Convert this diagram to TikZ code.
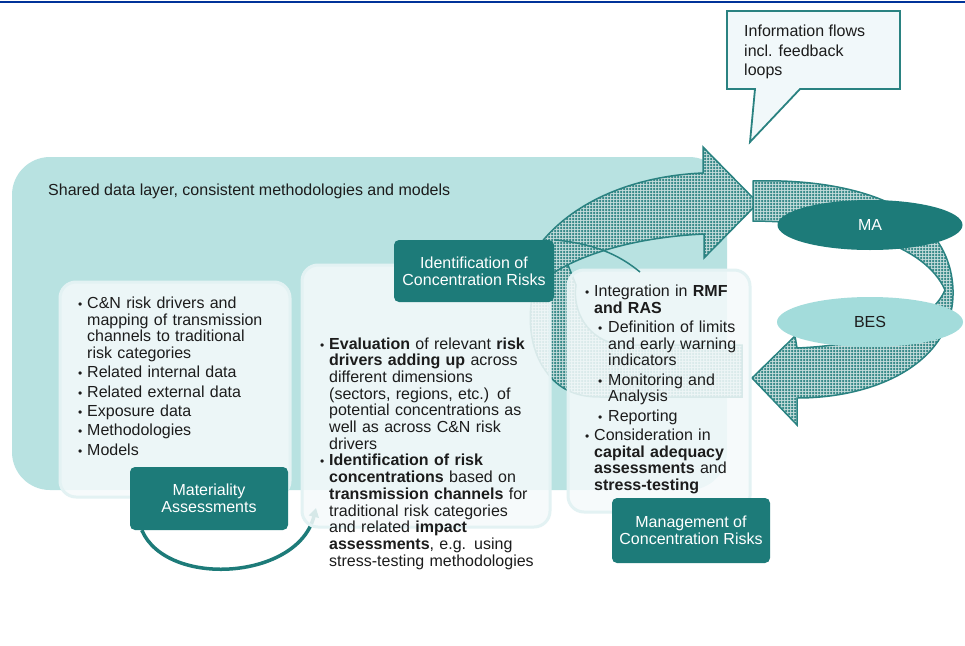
\documentclass[tikz,border=0pt]{standalone}
\usepackage{fontspec}
\setmainfont{Liberation Sans}
\usetikzlibrary{patterns,arrows.meta,shapes.geometric}

\definecolor{ecbblue}{HTML}{003399}
\definecolor{darkteal}{HTML}{1D7B79}
\definecolor{edgeteal}{HTML}{2A8281}
\definecolor{layerteal}{HTML}{B8E2E1}
\definecolor{lightteal}{HTML}{A3DCDB}
\definecolor{panelfill}{HTML}{F5FAFB}
\definecolor{paneledge}{HTML}{E3F2F3}
\definecolor{calloutfill}{HTML}{F1F8FA}
\definecolor{screenbase}{HTML}{C4DCDB}
\definecolor{textgray}{HTML}{1C1C1C}

% coarse dot screen for the flow arrows
\pgfdeclarepatternformonly{screendots}{\pgfqpoint{-1.4pt}{-1.4pt}}{\pgfqpoint{1.4pt}{1.4pt}}{\pgfqpoint{3pt}{3pt}}{%
  \pgfpathcircle{\pgfqpoint{0pt}{0pt}}{1.25pt}\pgfusepath{fill}}

\newcommand\listfont{\fontsize{16}{16.7}\selectfont}
\newcommand\boxfont{\fontsize{16}{17}\selectfont}
% bullet items with hanging indent
\newcommand\bulletmark{{\fontsize{12}{12}\selectfont\textbullet}}
\newcommand\bl[1]{\ifvmode\noindent\fi\hangindent=9pt\hangafter=1\hbox to 9pt{\bulletmark\hss}#1\par}
\newcommand\sbl[1]{\ifvmode\noindent\fi\hangindent=23pt\hangafter=1\hbox to 23pt{\hskip13pt\bulletmark\hss}#1\par}

\tikzset{
  layer/.style={fill=layerteal, rounded corners=38pt},
  panel/.style={fill=panelfill, fill opacity=0.86, draw=paneledge, line width=3pt, rounded corners=16pt},
  tealbox/.style={fill=darkteal, text=white, rounded corners=5pt, align=center, font=\boxfont},
  listtext/.style={inner sep=0pt, text=textgray, font=\listfont},
  plain/.style={inner sep=0pt, text=textgray, font=\boxfont},
  flowarrow/.style={preaction={fill=screenbase}, pattern=screendots, pattern color=edgeteal, draw=edgeteal, line width=1.5pt},
  cyclearrow/.style={draw=darkteal, line width=3.5pt, -{Triangle[length=9pt,width=10pt]}},
  callout/.style={fill=calloutfill, draw=edgeteal, line width=1.8pt},
}

\begin{document}
\begin{tikzpicture}[x=1pt, y=-1pt]
  \useasboundingbox (0,0) rectangle (965,645);
  \fill[white] (0,0) rectangle (965,645);

  % shared data layer
  \node[layer, minimum width=715pt, minimum height=333pt] (layer) at (369.5,323.5) {};
  \node[plain, anchor=base west] (layertext) at (48,195.5) {Shared data layer, consistent methodologies and models};

  % rising arrow: tail, then shaft and head
  \path[flowarrow] (560,245) .. controls (528,270) and (520,335) .. (545,370) .. controls (560,392) and (580,397) .. (600,397) -- (742,397) -- (742,345) -- (620,345) .. controls (588,340) and (572,312) .. (576,285) -- cycle;
  \path[flowarrow] (528,262) .. controls (560,205) and (630,176) .. (703,173) -- (703,147) -- (758,203) -- (704,258) -- (704,234) .. controls (640,237) and (585,252) .. (550,275) -- cycle;

  % feedback arrow on the right
  \path[flowarrow] (753,181) .. controls (850,178) and (950,205) .. (953,290) .. controls (955,360) and (880,398) .. (797,398) -- (797,425) -- (752,378) -- (795,336) -- (797,348) .. controls (870,345) and (930,325) .. (945,290) .. controls (925,245) and (850,222) .. (753,221) -- cycle;

  \node[ellipse, fill=darkteal, text=white, minimum width=185pt, minimum height=50pt, font=\boxfont] (ma) at (870,225) {MA};
  \node[ellipse, fill=lightteal, text=textgray, minimum width=186pt, minimum height=50pt, font=\boxfont] (bes) at (870,322) {BES};

  % panels
  \node[panel, minimum width=230pt, minimum height=215pt] (drvbox) at (175,389.5) {};
  \node[tealbox, minimum width=158pt, minimum height=63pt] (matbox) at (209,498.5) {Materiality\\Assessments};
  \coordinate (arcend) at (316,508);
  \draw[cyclearrow] ([xshift=12pt]matbox.south west) .. controls +(25,58) and +(-18,72) .. (arcend);
  \node[panel, minimum width=248pt, minimum height=262pt] (evalbox) at (426,396) {};
  \node[panel, minimum width=182pt, minimum height=242pt] (mgmtbox) at (659,391) {};

  \node[listtext, text width=200pt, anchor=base west] (drvtext) at (78,308.5) {\setlength\parskip{2.6pt}%
    \bl{C\&N risk drivers and\newline mapping of transmission\newline channels to traditional\newline risk categories}
    \bl{Related internal data}
    \bl{Related external data}
    \bl{Exposure data}
    \bl{Methodologies}
    \bl{Models}};

  \node[listtext, text width=225pt, anchor=base west] (evaltext) at (320,349) {%
    \bl{\textbf{Evaluation} of relevant \textbf{risk\newline drivers adding up} across\newline different dimensions\newline (sectors, regions, etc.) of\newline potential concentrations as\newline well as across C\&N risk\newline drivers}
    \bl{\textbf{Identification of risk\newline concentrations} based on\newline \textbf{transmission channels} for\newline traditional risk categories\newline and related \textbf{impact\newline assessments}, e.g. using\newline stress-testing methodologies}};

  \node[listtext, text width=165pt, anchor=base west] (mgmttext) at (585,296.5) {\setlength\parskip{2.6pt}%
    \bl{Integration in \textbf{RMF\newline and RAS}}
    \sbl{Definition of limits\newline and early warning\newline indicators}
    \sbl{Monitoring and\newline Analysis}
    \sbl{Reporting}
    \bl{Consideration in\newline \textbf{capital adequacy\newline assessments} and\newline \textbf{stress-testing}}};

  \node[tealbox, minimum width=160pt, minimum height=62pt] (idbox) at (474,271) {Identification of\\Concentration Risks};
  \draw[edgeteal, line width=1.5pt] (idbox.north east) .. controls +(40,4) and +(-22,-18) .. (640,272);
  \node[tealbox, minimum width=158pt, minimum height=65pt] (mgmtlabel) at (691,530.5) {Management of\\Concentration Risks};

  % callout
  \draw[callout] (727,11) -- (900,11) -- (900,89) -- (800,89) -- (750,142) -- (755,89) -- (727,89) -- cycle;
  \node[plain, anchor=base west, align=left, font=\fontsize{16}{19.5}\selectfont] (calltext) at (744,75.5) {Information flows\\incl. feedback\\loops};

  % header rule
  \draw[ecbblue, line width=2.5pt] (0,2) -- (965,2);
\end{tikzpicture}
\end{document}
